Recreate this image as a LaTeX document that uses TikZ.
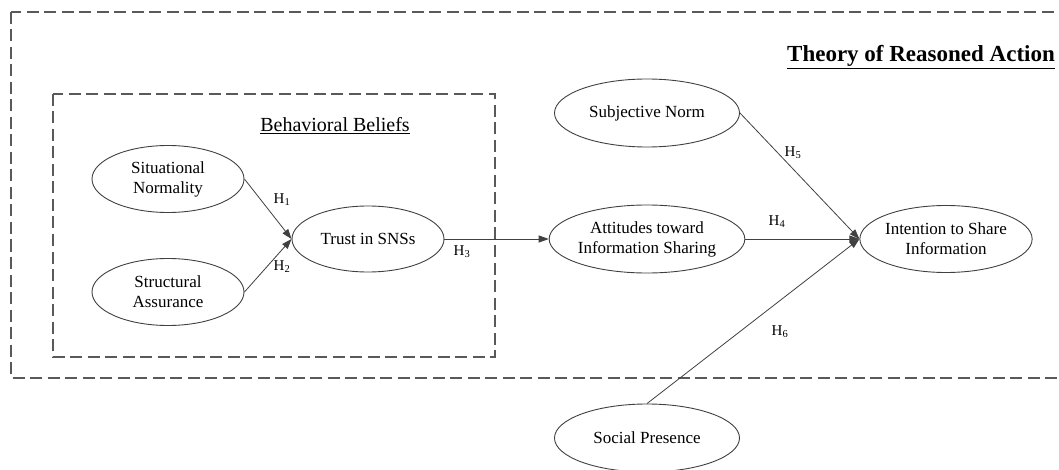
\documentclass[tikz,border=0pt]{standalone}
\usepackage{fontspec}
\setmainfont{Liberation Serif}
\usetikzlibrary{arrows.meta,shapes.geometric}

\begin{document}
\begin{tikzpicture}[x=1pt, y=-1pt,
        construct/.style={ellipse, draw=black!75, line width=0.9pt, align=center, inner sep=0pt, font=\fontsize{17}{20}\selectfont, minimum width=152, minimum height=67},
        wide/.style={construct, minimum width=185, minimum height=68},
        path/.style={-{Triangle[length=10pt, width=7pt]}, line width=0.8pt, draw=black!75},
        hyp/.style={font=\fontsize{15}{17}\selectfont, inner sep=0pt},
        frame/.style={draw=black!65, line width=1.4pt, dash pattern=on 12pt off 5.5pt},
        heading/.style={font=\fontsize{20}{22}\selectfont, inner sep=0pt}
      ]
      \useasboundingbox (0,0) rectangle (1059,470);

      % frames
      \draw[frame] (11,12) rectangle (1085,378);
      \draw[frame] (53,94) rectangle (495,357);
      \node[heading, font=\fontsize{23}{25}\selectfont\bfseries] (tra) at (921,57) {\underline{Theory of Reasoned Action}};
      \node[heading] (beliefs) at (335,126) {\underline{Behavioral Beliefs}};

      % constructs
      \node[construct] (sitnorm) at (168,179) {Situational\\Normality};
      \node[construct] (strassur) at (168,292) {Structural\\Assurance};
      \node[construct, minimum height=66] (trust) at (368,239) {Trust in SNSs};
      \node[wide] (subjnorm) at (647,113) {Subjective Norm};
      \node[wide] (attitude) at (647,239) {Attitudes toward\\Information Sharing};
      \node[construct, minimum width=163] (intent) at (946,239) {Intention to Share\\Information};
      \node[wide] (social) at (647,438) {Social Presence};

      % hypotheses
      \draw[path] (sitnorm.east) -- (trust.west);
      \draw[path] (strassur.east) -- (trust.west);
      \draw[path] (trust.east) -- (attitude.west);
      \draw[path] (attitude.east) -- (intent.west);
      \draw[path] (subjnorm.east) -- (intent.west);
      \draw[path] (social.north) -- (intent.west);

      \node[hyp] (h1) at (282,200) {H\textsubscript{1}};
      \node[hyp] (h2) at (282,267) {H\textsubscript{2}};
      \node[hyp] (h3) at (462,252) {H\textsubscript{3}};
      \node[hyp] (h4) at (777,222) {H\textsubscript{4}};
      \node[hyp] (h5) at (793,153) {H\textsubscript{5}};
      \node[hyp] (h6) at (780,332) {H\textsubscript{6}};
    \end{tikzpicture}
\end{document}
